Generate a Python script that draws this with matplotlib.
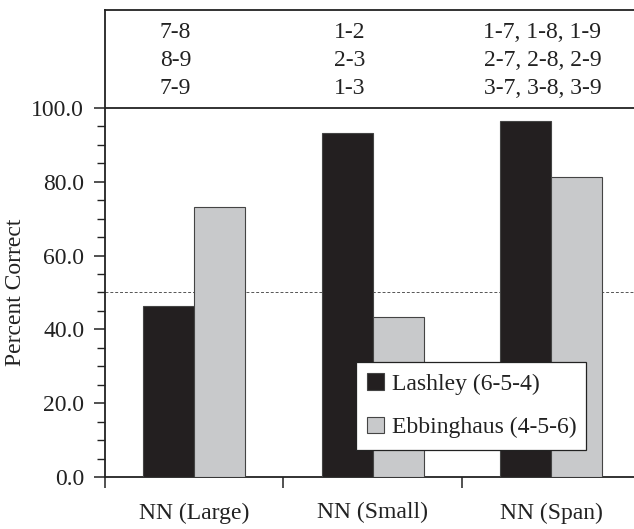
import matplotlib.pyplot as plt
import numpy as np

conditions = ['NN (Large)', 'NN (Small)', 'NN (Span)']
lashley = [46.4, 93.2, 96.5]
ebbinghaus = [73.2, 43.4, 81.3]
pairs = [['7-8', '8-9', '7-9'],
         ['1-2', '2-3', '1-3'],
         ['1-7, 1-8, 1-9', '2-7, 2-8, 2-9', '3-7, 3-8, 3-9']]
chance = 50.0

plt.rcParams['font.family'] = ['Liberation Serif', 'DejaVu Serif']
fs = 17

fig = plt.figure(figsize=(6.34, 5.29), dpi=100)
ax = fig.add_axes([0.1656, 0.0977, 0.8446, 0.884])

x = np.arange(len(conditions))
w = 0.286
ax.bar(x - w/2, lashley, w, color='#231f20', edgecolor='#444444', linewidth=0.8,
       label='Lashley (6-5-4)', zorder=3)
ax.bar(x + w/2, ebbinghaus, w, color='#c8c9cb', edgecolor='#444444', linewidth=0.8,
       label='Ebbinghaus (4-5-6)', zorder=3)
ax.axhline(chance, color='#555555', linestyle=(0, (3, 2)), linewidth=0.7, zorder=2)
ax.axhline(100, color='#222222', linewidth=1.3, zorder=4)

ax.set_xlim(-0.5, 2.5)
ax.set_ylim(0, 126.5)
ax.set_yticks(np.arange(0, 101, 20))
ax.set_yticklabels(['%.1f' % v for v in np.arange(0, 101, 20)])
ax.set_yticks(np.arange(0, 101, 5), minor=True)
ax.tick_params(axis='y', which='major', length=8, width=1.1, pad=7, labelsize=fs,
               color='#222222', labelcolor='#222222')
ax.tick_params(axis='y', which='minor', length=6, width=1.0, color='#222222')

ax.set_xticks([-0.5, 0.5, 1.5, 2.5])
ax.set_xticklabels([])
ax.set_xticks(x, minor=True)
ax.set_xticklabels(conditions, minor=True)
ax.tick_params(axis='x', which='major', length=8, width=1.1, color='#222222')
ax.tick_params(axis='x', which='minor', length=0, pad=18, labelsize=fs,
               labelcolor='#222222')

for s in ['left', 'top', 'bottom']:
    ax.spines[s].set_linewidth(1.3)
    ax.spines[s].set_color('#222222')
ax.spines['right'].set_visible(False)

ax.set_ylabel('Percent Correct', fontsize=fs, color='#222222', va='center')
ax.yaxis.set_label_coords(-0.168, 50 / 126.5)

text_x = [-0.105, 0.873, 1.951]
for tx, rows in zip(text_x, pairs):
    for i, r in enumerate(rows):
        ax.text(tx, 120.4 - i * 7.55, r, ha='center', va='center', fontsize=fs,
                color='#222222')

leg = ax.legend(loc='lower left', bbox_to_anchor=(0.4681, 0.0584, 0.4295, 0.185),
                mode='expand', fontsize=fs, frameon=True, fancybox=False,
                edgecolor='#222222', framealpha=1, borderpad=0.5,
                labelspacing=0.92, handlelength=0.7, handleheight=0.7,
                handletextpad=0.35, borderaxespad=0)
leg.get_frame().set_linewidth(0.9)
for t in leg.get_texts():
    t.set_color('#222222')

fig.savefig('out.png', dpi=100)
